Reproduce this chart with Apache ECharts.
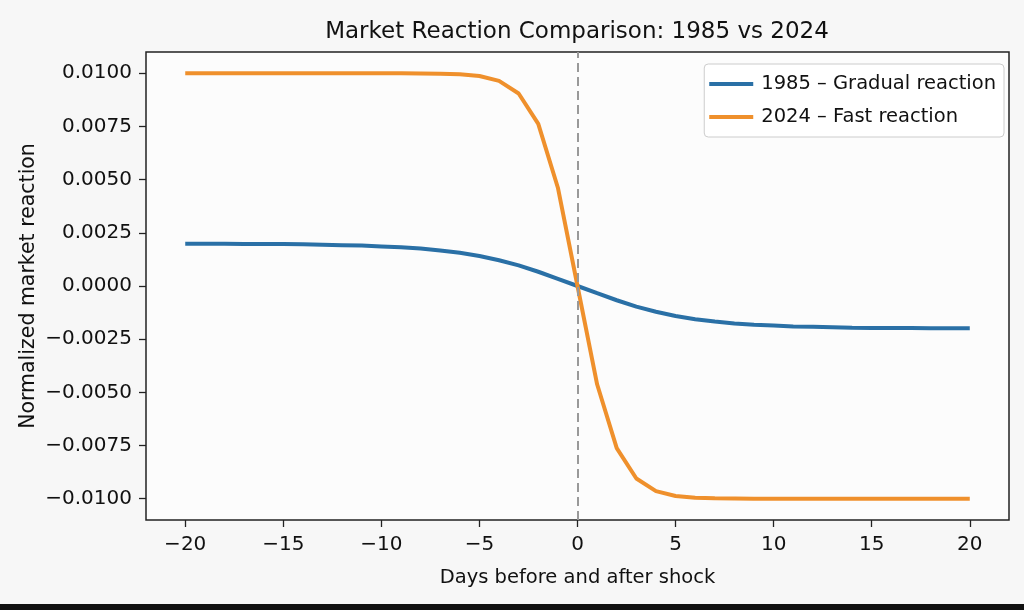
<!DOCTYPE html>
<html>
<head>
<meta charset="utf-8">
<script src="https://cdn.jsdelivr.net/npm/echarts@6/dist/echarts.min.js"></script>
<style>
  html, body { margin: 0; padding: 0; background: #f7f7f7; }
  #chart { width: 1024px; height: 610px; }
</style>
</head>
<body>
<div id="chart"></div>
<script>
const titleText = 'Market Reaction Comparison: 1985 vs 2024';
const xAxisTitle = 'Days before and after shock';
const yAxisTitle = 'Normalized market reaction';
const seriesNames = ['1985 – Gradual reaction', '2024 – Fast reaction'];

const days = [-20,-19,-18,-17,-16,-15,-14,-13,-12,-11,-10,-9,-8,-7,-6,-5,-4,-3,-2,-1,0,
              1,2,3,4,5,6,7,8,9,10,11,12,13,14,15,16,17,18,19,20];

const gradual1985 = [
  0.00199,0.00199,0.00199,0.00198,0.00198,0.00197,0.00196,0.00194,0.00192,0.00190,
  0.00186,0.00182,0.00176,0.00167,0.00156,0.00141,0.00121,0.00097,0.00067,0.00034,
  0.0,
  -0.00034,-0.00067,-0.00097,-0.00121,-0.00141,-0.00156,-0.00167,-0.00176,-0.00182,-0.00186,
  -0.00190,-0.00192,-0.00194,-0.00196,-0.00197,-0.00198,-0.00198,-0.00199,-0.00199,-0.00199
];

const fast2024 = [
  0.0100,0.0100,0.0100,0.0100,0.0100,0.0100,0.0100,0.0100,0.0100,0.0100,
  0.0100,0.0100,0.00999,0.00998,0.00995,0.00987,0.00964,0.00905,0.00762,0.00462,
  0.0,
  -0.00462,-0.00762,-0.00905,-0.00964,-0.00987,-0.00995,-0.00998,-0.00999,-0.0100,-0.0100,
  -0.0100,-0.0100,-0.0100,-0.0100,-0.0100,-0.0100,-0.0100,-0.0100,-0.0100,-0.0100
];

const xTicks = [-20, -15, -10, -5, 0, 5, 10, 15, 20];
const yTicks = [-0.01, -0.0075, -0.005, -0.0025, 0, 0.0025, 0.005, 0.0075, 0.01];

const FONT = 'DejaVu Sans';
const fmtMinus = s => s.replace('-', '\u2212');

const chart = echarts.init(document.getElementById('chart'), null, { renderer: 'canvas' });
const option = {
  animation: false,
  backgroundColor: '#f7f7f7',
  textStyle: { fontFamily: FONT },
  graphic: [
    { type: 'rect', shape: { x: 146, y: 52, width: 863, height: 468 }, style: { fill: '#fcfcfc' }, z: -10 },
    { type: 'text', x: 577, y: 32, style: { text: titleText, align: 'center', verticalAlign: 'middle', font: '23px "DejaVu Sans"', fill: '#111' } },
    { type: 'rect', shape: { x: 0, y: 604, width: 1024, height: 6 }, style: { fill: '#111' } }
  ],
  grid: { left: 146, right: 15, top: 52, bottom: 90, show: true, borderColor: '#222', borderWidth: 1.5, backgroundColor: 'transparent' },
  legend: {
    orient: 'vertical',
    right: 20, top: 64,
    itemWidth: 44, itemHeight: 4, itemGap: 13,
    padding: [10, 8, 10, 5],
    backgroundColor: 'rgba(255,255,255,0.85)',
    borderColor: '#cccccc', borderWidth: 1, borderRadius: 4,
    textStyle: { fontFamily: FONT, fontSize: 19.5, color: '#111', padding: [0, 0, 0, 3] },
    icon: 'rect',
    data: seriesNames
  },
  xAxis: {
    type: 'value', min: -22, max: 22,
    name: xAxisTitle, nameLocation: 'middle', nameGap: 48, nameMoveOverlap: false,
    nameTextStyle: { fontFamily: FONT, fontSize: 19.5, color: '#111' },
    axisLine: { show: false, onZero: false },
    splitLine: { show: false },
    axisTick: { show: true, length: 7, lineStyle: { color: '#222', width: 1.3 }, customValues: xTicks },
    axisLabel: { fontFamily: FONT, fontSize: 20, color: '#111', margin: 15, customValues: xTicks,
      formatter: v => fmtMinus(String(v)) }
  },
  yAxis: {
    type: 'value', min: -0.011, max: 0.011,
    name: yAxisTitle, nameLocation: 'middle', nameGap: 107, nameMoveOverlap: false,
    nameTextStyle: { fontFamily: FONT, fontSize: 20.5, color: '#111' },
    axisLine: { show: false, onZero: false },
    splitLine: { show: false },
    axisTick: { show: true, length: 7, lineStyle: { color: '#222', width: 1.3 }, customValues: yTicks },
    axisLabel: { fontFamily: FONT, fontSize: 20, color: '#111', margin: 14, customValues: yTicks,
      formatter: v => fmtMinus(v.toFixed(4)) }
  },
  series: [
    {
      name: seriesNames[0], type: 'line', showSymbol: false, symbol: 'none',
      data: days.map((d, i) => [d, gradual1985[i]]),
      lineStyle: { color: '#2a70a6', width: 4 }, itemStyle: { color: '#2a70a6' },
      z: 3,
      markLine: {
        silent: true, symbol: 'none', label: { show: false },
        lineStyle: { color: '#999999', type: [9, 5], width: 2 },
        data: [{ xAxis: 0 }]
      }
    },
    {
      name: seriesNames[1], type: 'line', showSymbol: false, symbol: 'none',
      data: days.map((d, i) => [d, fast2024[i]]),
      lineStyle: { color: '#ef902c', width: 4 }, itemStyle: { color: '#ef902c' },
      z: 4
    }
  ]
};
chart.setOption(option);
</script>
</body>
</html>
